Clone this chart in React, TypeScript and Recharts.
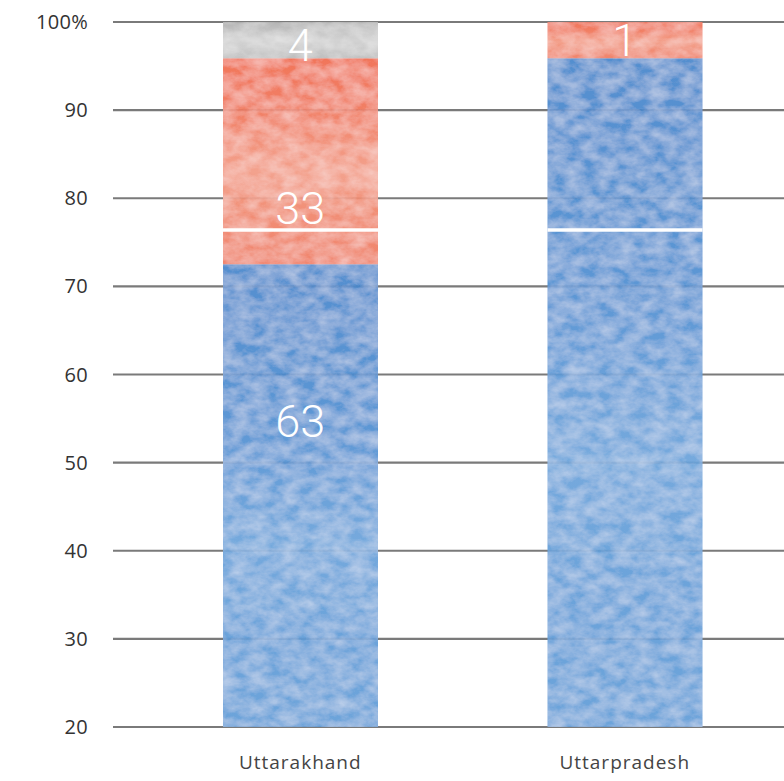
import { BarChart, Bar, XAxis, YAxis, CartesianGrid, ReferenceDot } from 'recharts';

// share of each colour band, stacked from 0 (axis starts at 20)
const states = ['Uttarakhand', 'Uttarpradesh'];
const blueShare = [72.5, 95.9];
const redShare = [23.4, 4.1];
const grayShare = [4.1, 0];
const markerLevel = [76.4, 76.4];

// printed numbers and where they sit on the value axis
const labelStates = ['Uttarakhand', 'Uttarakhand', 'Uttarakhand', 'Uttarpradesh'];
const labelTexts = ['63', '33', '4', '1'];
const labelLevels = [54.7, 78.9, 97.4, 98.0];

const yTicks = [20, 30, 40, 50, 60, 70, 80, 90, 100];

const rows = states.map((state, i) => ({
  state,
  blue: blueShare[i],
  red: redShare[i],
  gray: grayShare[i],
  marker: [markerLevel[i] - 0.2, markerLevel[i] + 0.2],
}));

const axisFont = '"Open Sans", "DejaVu Sans", sans-serif';

export default function App() {
  return (
    <div style={{ position: 'fixed', left: 0, top: 0, width: 784, height: 781, overflow: 'hidden', background: '#fff' }}>
      <BarChart width={812} height={781} data={rows} margin={{ top: 22, right: 0, bottom: 0, left: 0 }} barSize={155}>
        <defs>
          <linearGradient id="blueWash" x1="0" y1="0" x2="0" y2="1">
            <stop offset="0%" stopColor="#4585cb" />
            <stop offset="35%" stopColor="#4f8ed1" />
            <stop offset="60%" stopColor="#6aa2da" />
            <stop offset="80%" stopColor="#5e9bd7" />
            <stop offset="100%" stopColor="#609cd7" />
          </linearGradient>
          <linearGradient id="redWash" x1="0" y1="0" x2="0" y2="1">
            <stop offset="0%" stopColor="#f06a4d" />
            <stop offset="25%" stopColor="#f07457" />
            <stop offset="55%" stopColor="#f29a84" />
            <stop offset="75%" stopColor="#f08469" />
            <stop offset="100%" stopColor="#ef7a60" />
          </linearGradient>
          <linearGradient id="grayWash" x1="0" y1="0" x2="0" y2="1">
            <stop offset="0%" stopColor="#adadad" />
            <stop offset="50%" stopColor="#cfcfcf" />
            <stop offset="100%" stopColor="#b9b9b9" />
          </linearGradient>
          <filter id="wash" x="0" y="0" width="100%" height="100%">
            <feTurbulence type="fractalNoise" baseFrequency="0.06 0.09" numOctaves={4} seed={7} result="noise" />
            <feColorMatrix
              in="noise"
              type="matrix"
              values="0 0 0 0 1  0 0 0 0 1  0 0 0 0 1  0.6 0 0 0 -0.15"
              result="light"
            />
            <feComposite in="light" in2="SourceAlpha" operator="in" result="lightIn" />
            <feMerge>
              <feMergeNode in="SourceGraphic" />
              <feMergeNode in="lightIn" />
            </feMerge>
          </filter>
        </defs>
        <CartesianGrid vertical={false} stroke="#7a7a7a" strokeWidth={2.2} />
        <XAxis
          dataKey="state"
          padding={{ left: 25, right: 25 }}
          height={54}
          axisLine={false}
          tickLine={false}
          tickSize={0}
          tickMargin={29}
          tick={{ fill: '#444', fontSize: 19, fontFamily: axisFont, letterSpacing: 1 }}
        />
        <XAxis xAxisId="mark" dataKey="state" padding={{ left: 25, right: 25 }} hide />
        <YAxis
          domain={[20, 100]}
          ticks={yTicks}
          allowDataOverflow
          width={113}
          axisLine={false}
          tickLine={false}
          tickSize={0}
          tickMargin={25}
          tick={{ fill: '#333', fontSize: 20, fontFamily: axisFont, letterSpacing: 0.3 }}
          tickFormatter={(v: number) => (v === 100 ? '100%' : String(v))}
        />
        <Bar dataKey="blue" stackId="s" fill="url(#blueWash)" fillOpacity={0.92} filter="url(#wash)" isAnimationActive={false} />
        <Bar dataKey="red" stackId="s" fill="url(#redWash)" fillOpacity={0.92} filter="url(#wash)" isAnimationActive={false} />
        <Bar dataKey="gray" stackId="s" fill="url(#grayWash)" fillOpacity={0.92} filter="url(#wash)" isAnimationActive={false} />
        <Bar dataKey="marker" xAxisId="mark" fill="#ffffff" isAnimationActive={false} />
        {labelTexts.map((t, i) => (
          <ReferenceDot
            key={t + i}
            x={labelStates[i]}
            y={labelLevels[i]}
            r={0}
            fill="none"
            stroke="none"
            label={{ value: t, position: 'center', fill: '#fff', fontSize: 45, fontWeight: 300, fontFamily: 'Roboto, "Liberation Sans", sans-serif' }}
          />
        ))}
      </BarChart>
    </div>
  );
}
